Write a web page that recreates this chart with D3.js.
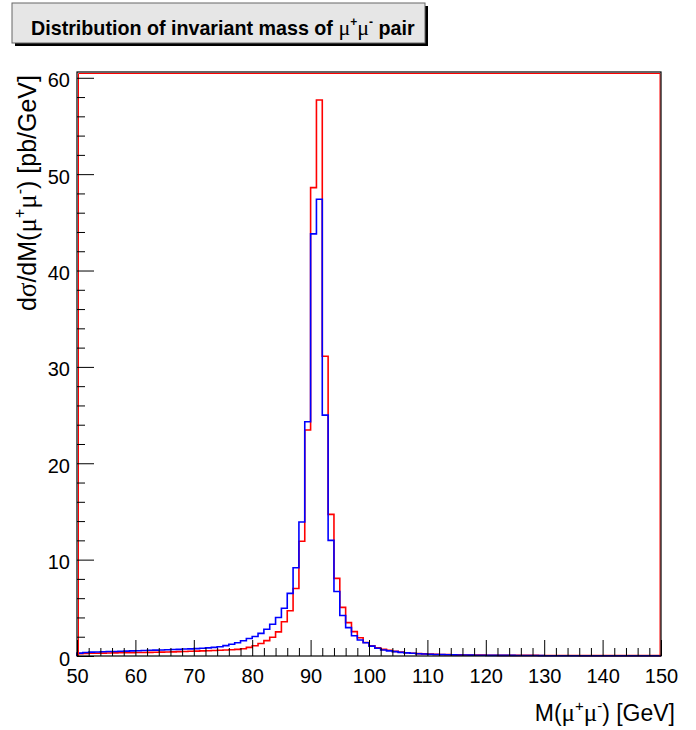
<!DOCTYPE html>
<html lang="en">
<head>
<meta charset="UTF-8">
<title>Distribution of invariant mass of mu+ mu- pair</title>
<script src="https://d3js.org/d3.v7.min.js"></script>
<style>
  body { margin: 0; background: #fff; }
  svg { display: block; font-family: "Liberation Sans", Arial, sans-serif; }
  .tick line { stroke: #000; }
  .domain { display: none; }
</style>
</head>
<body>
<script>
// bins of 1 GeV from 50 to 150
const binLow = d3.range(50, 150);

// red histogram
const redVals = [
  0.25, 0.27, 0.28, 0.29, 0.30, 0.31, 0.32, 0.33, 0.34, 0.35,
  0.36, 0.37, 0.38, 0.39, 0.40, 0.42, 0.43, 0.45, 0.47, 0.49,
  0.51, 0.53, 0.55, 0.57, 0.59, 0.62, 0.65, 0.69, 0.76, 0.90,
  1.07, 1.30, 1.60, 1.94, 2.50, 3.56, 4.70, 7.00, 11.9, 23.45,
  48.6, 57.7, 31.1, 14.7, 8.06, 5.05, 3.46, 2.53, 1.90, 1.40,
  1.07, 0.86, 0.69, 0.59, 0.48, 0.40, 0.34, 0.29, 0.25, 0.22,
  0.19, 0.17, 0.15, 0.14, 0.13, 0.12, 0.11, 0.10, 0.09, 0.09,
  0.08, 0.08, 0.07, 0.07, 0.07, 0.06, 0.06, 0.06, 0.06, 0.05,
  0.05, 0.05, 0.05, 0.05, 0.05, 0.05, 0.04, 0.04, 0.04, 0.04,
  0.04, 0.04, 0.04, 0.04, 0.04, 0.04, 0.04, 0.04, 0.04, 0.04
];

// blue histogram
const blueVals = [
  0.30, 0.36, 0.40, 0.42, 0.44, 0.46, 0.47, 0.49, 0.51, 0.53,
  0.55, 0.57, 0.59, 0.61, 0.63, 0.65, 0.67, 0.69, 0.72, 0.74,
  0.77, 0.80, 0.84, 0.89, 0.96, 1.08, 1.22, 1.38, 1.58, 1.82,
  2.02, 2.35, 2.77, 3.30, 4.00, 4.95, 6.50, 9.15, 13.9, 24.3,
  43.8, 47.4, 25.0, 12.0, 6.70, 4.20, 2.94, 2.10, 1.66, 1.38,
  1.02, 0.80, 0.63, 0.53, 0.45, 0.38, 0.32, 0.28, 0.24, 0.21,
  0.18, 0.16, 0.14, 0.13, 0.12, 0.11, 0.10, 0.09, 0.08, 0.08,
  0.07, 0.07, 0.06, 0.06, 0.06, 0.05, 0.05, 0.05, 0.05, 0.04,
  0.03, 0.03, 0.03, 0.03, 0.02, 0.02, 0.02, 0.02, 0.02, 0.02,
  0.02, 0.02, 0.02, 0.02, 0.02, 0.02, 0.02, 0.02, 0.02, 0.02
];

const xMajor = [50, 60, 70, 80, 90, 100, 110, 120, 130, 140, 150];
const yMajor = [0, 10, 20, 30, 40, 50, 60];

const W = 696, H = 730;
const fL = 77, fR = 661, fT = 72, fB = 656;
const serif = "Liberation Serif, Times New Roman, serif";

const svg = d3.select("body").append("svg").attr("width", W).attr("height", H);
svg.append("rect").attr("width", W).attr("height", H).attr("fill", "#fff");

const x = d3.scaleLinear().domain([50, 150]).range([fL, fR]);
const y = d3.scaleLinear().domain([0, 60.6]).range([fB, fT]);

// title box with shadow
svg.append("rect").attr("x", 15).attr("y", 6).attr("width", 413).attr("height", 40).attr("fill", "#000");
svg.append("rect").attr("x", 12).attr("y", 3).attr("width", 413).attr("height", 40)
  .attr("fill", "#e6e6e6").attr("stroke", "#666").attr("stroke-width", 1);
const title = svg.append("text").attr("x", 31).attr("y", 35)
  .attr("font-size", 19.7).attr("font-weight", "bold").attr("fill", "#000");
title.append("tspan").text("Distribution of invariant mass of ");
title.append("tspan").attr("font-family", serif).attr("font-weight", "normal").attr("font-size", 22).text("\u03bc");
title.append("tspan").attr("font-size", 12).attr("dy", -9).text("+");
title.append("tspan").attr("font-family", serif).attr("font-weight", "normal").attr("font-size", 22).attr("dy", 9).text("\u03bc");
title.append("tspan").attr("font-size", 12).attr("dy", -9).text("-");
title.append("tspan").attr("dy", 9).text(" pair");

// histograms as step outlines
function histPath(vals) {
  const pts = [[50, 0]];
  vals.forEach((v, i) => {
    pts.push([binLow[i], v]);
    pts.push([binLow[i] + 1, v]);
  });
  pts.push([150, 0]);
  return d3.line().x(d => x(d[0])).y(d => y(d[1]))(pts);
}

svg.append("path").attr("d", histPath(redVals))
  .attr("fill", "none").attr("stroke", "#ff0000").attr("stroke-width", 1.6);
svg.append("path").attr("d", histPath(blueVals))
  .attr("fill", "none").attr("stroke", "#0000ff").attr("stroke-width", 1.6);

// frame
svg.append("path")
  .attr("d", `M${fL + 1.5},${fB} V${fT + 1.5} H${fR - 1} V${fB}`)
  .attr("fill", "none").attr("stroke", "#ff0000").attr("stroke-width", 1);
svg.append("rect").attr("x", fL).attr("y", fT).attr("width", fR - fL).attr("height", fB - fT)
  .attr("fill", "none").attr("stroke", "#000").attr("stroke-width", 1.2);

// axes
const xMinor = d3.range(50, 151, 2).filter(v => v % 10 !== 0);
const yMinor = d3.range(0, 61, 2).filter(v => v % 10 !== 0);

svg.append("g").attr("transform", `translate(0,${fB})`)
  .call(d3.axisBottom(x).tickValues(xMinor).tickSize(-8).tickFormat(""));
const gx = svg.append("g").attr("transform", `translate(0,${fB})`)
  .call(d3.axisBottom(x).tickValues(xMajor).tickSize(-16).tickPadding(13).tickFormat(d3.format("d")));
gx.selectAll("text").attr("font-size", 20).attr("font-family", "Liberation Sans, Arial, sans-serif").attr("fill", "#000");

svg.append("g").attr("transform", `translate(${fL},0)`)
  .call(d3.axisLeft(y).tickValues(yMinor).tickSize(-8).tickFormat(""));
const gy = svg.append("g").attr("transform", `translate(${fL},0)`)
  .call(d3.axisLeft(y).tickValues(yMajor).tickSize(-17).tickPadding(7).tickFormat(d3.format("d")));
gy.selectAll("text").attr("font-size", 20).attr("font-family", "Liberation Sans, Arial, sans-serif")
  .attr("fill", "#000").attr("dy", "0.45em");
svg.selectAll(".tick line").attr("stroke-width", 1);

// axis titles
const xt = svg.append("text").attr("x", 675).attr("y", 721).attr("text-anchor", "end")
  .attr("font-size", 23).attr("fill", "#000");
xt.append("tspan").text("M(");
xt.append("tspan").attr("font-family", serif).attr("font-size", 25).text("\u03bc");
xt.append("tspan").attr("font-size", 15).attr("dy", -10).text("+");
xt.append("tspan").attr("font-family", serif).attr("font-size", 25).attr("dy", 10).text("\u03bc");
xt.append("tspan").attr("font-size", 15).attr("dy", -10).text("-");
xt.append("tspan").attr("dy", 10).text(") [GeV]");

const yt = svg.append("text").attr("transform", "translate(36,75) rotate(-90)")
  .attr("text-anchor", "end").attr("font-size", 25).attr("fill", "#000");
yt.append("tspan").text("d");
yt.append("tspan").attr("font-family", serif).attr("font-size", 27).text("\u03c3");
yt.append("tspan").text("/dM(");
yt.append("tspan").attr("font-family", serif).attr("font-size", 27).text("\u03bc");
yt.append("tspan").attr("font-size", 16).attr("dy", -11).text("+");
yt.append("tspan").attr("font-family", serif).attr("font-size", 27).attr("dy", 11).text("\u03bc");
yt.append("tspan").attr("font-size", 16).attr("dy", -11).text("-");
yt.append("tspan").attr("dy", 11).text(") [pb/GeV]");
</script>
</body>
</html>
